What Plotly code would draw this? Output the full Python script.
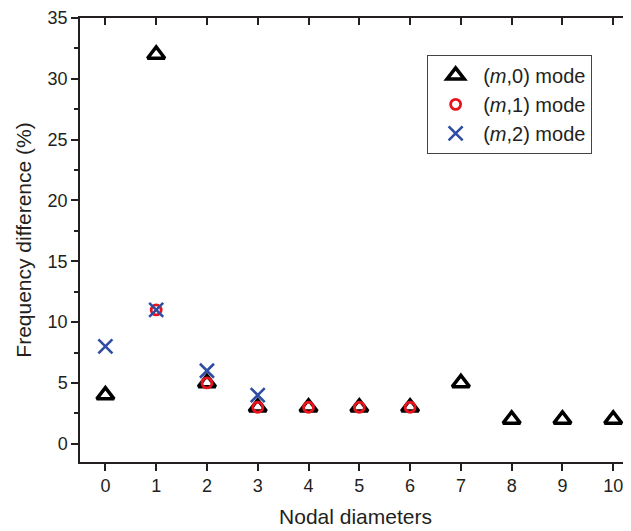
import plotly.graph_objects as go

x_m0 = [0, 1, 2, 3, 4, 5, 6, 7, 8, 9, 10]
y_m0 = [4, 32, 5, 3, 3, 3, 3, 5, 2, 2, 2]
x_m1 = [1, 2, 3, 4, 5, 6]
y_m1 = [11, 5, 3, 3, 3, 3]
x_m2 = [0, 1, 2, 3]
y_m2 = [8, 11, 6, 4]
names = ["(<i>m</i>,0) mode", "(<i>m</i>,1) mode", "(<i>m</i>,2) mode"]

FONT = "Liberation Sans, Arial, sans-serif"
INK = "#231f20"
fig = go.Figure()
fig.add_trace(go.Scatter(x=x_m0, y=y_m0, mode="markers", name=names[0],
                         marker=dict(symbol="triangle-up-open", size=15, color="black",
                                     line=dict(width=3.5, color="black"))))
fig.add_trace(go.Scatter(x=x_m1, y=y_m1, mode="markers", name=names[1],
                         marker=dict(symbol="circle-open", size=10, color="#e8141c",
                                     line=dict(width=2.8, color="#e8141c"))))
fig.add_trace(go.Scatter(x=x_m2, y=y_m2, mode="markers", name=names[2],
                         marker=dict(symbol="x-thin-open", size=14, color="#2f4ea3",
                                     line=dict(width=2.6, color="#2f4ea3"))))
# helper for top axis (ticks inside)
fig.add_trace(go.Scatter(x=[0], y=[0], xaxis="x2", mode="markers",
                         marker=dict(opacity=0), showlegend=False, hoverinfo="skip"))

xr = [-0.5, 10.35]
fig.update_layout(
    width=623, height=523,
    margin=dict(l=72, r=0, t=10, b=69),
    paper_bgcolor="white", plot_bgcolor="white",
    font=dict(family=FONT, color=INK, size=18),
    xaxis=dict(range=xr, tickmode="array", tickvals=list(range(11)),
               ticks="outside", ticklen=7, tickwidth=1.5, tickcolor=INK,
               showline=True, linecolor=INK, linewidth=1.5, mirror=True,
               showgrid=False, zeroline=False, automargin=False,
               tickfont=dict(size=18), ticklabeloverflow="allow",
               title=dict(text="Nodal diameters", font=dict(size=21), standoff=14)),
    xaxis2=dict(range=xr, overlaying="x", side="top", tickmode="array",
                tickvals=list(range(11)), ticks="inside", ticklen=7, tickwidth=1.5,
                tickcolor=INK, showline=True, linecolor=INK, linewidth=1.5,
                showticklabels=False, showgrid=False, zeroline=False, automargin=False),
    yaxis=dict(range=[-1.5, 35], tickmode="array", tickvals=[0, 5, 10, 15, 20, 25, 30, 35],
               ticks="outside", ticklen=7, tickwidth=1.5, tickcolor=INK,
               minor=dict(tickvals=[2.5, 7.5, 12.5, 17.5, 22.5, 27.5, 32.5],
                          ticks="outside", ticklen=4, tickwidth=1.5, tickcolor=INK),
               showline=True, linecolor=INK, linewidth=1.5, mirror=False,
               showgrid=False, zeroline=False, automargin=False,
               tickfont=dict(size=18), ticklabeloverflow="allow",
               title=dict(text="Frequency difference (%)", font=dict(size=21), standoff=10)),
    legend=dict(x=0.63, y=0.917, xanchor="left", yanchor="top",
                bordercolor="#444", borderwidth=1, bgcolor="white",
                font=dict(size=20), itemsizing="trace", tracegroupgap=0,
                itemwidth=45),
)
fig.write_html("out.html")
